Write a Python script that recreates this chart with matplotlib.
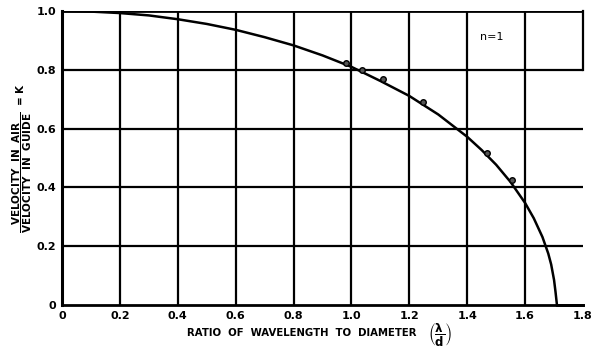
import matplotlib
matplotlib.use("Agg")
import matplotlib.pyplot as plt

# velocity ratio curve, K vs lambda/d
ratio = [0.0, 0.1, 0.2, 0.3, 0.4, 0.5, 0.6, 0.7, 0.8, 0.9, 1.0, 1.1, 1.2,
         1.3, 1.4, 1.45, 1.5, 1.55, 1.6, 1.63, 1.66, 1.68, 1.69, 1.70, 1.705, 1.71]
k_curve = [1.0, 0.998, 0.993, 0.985, 0.972, 0.956, 0.936, 0.911, 0.883, 0.849,
           0.810, 0.762, 0.711, 0.648, 0.572, 0.527, 0.477, 0.418, 0.347,
           0.295, 0.231, 0.175, 0.138, 0.085, 0.045, 0.0]
# flat part at cutoff
ratio_tail = [1.71, 1.8]
k_tail = [0.0, 0.0]

# measured points
meas_ratio = [0.98, 1.036, 1.11, 1.246, 1.467, 1.553]
meas_k = [0.822, 0.80, 0.768, 0.691, 0.516, 0.425]

x_ticks = [0, 0.2, 0.4, 0.6, 0.8, 1.0, 1.2, 1.4, 1.6, 1.8]
x_labels = ["0", "0.2", "0.4", "0.6", "0.8", "1.0", "1.2", "1.4", "1.6", "1.8"]
y_ticks = [0, 0.2, 0.4, 0.6, 0.8, 1.0]
y_labels = ["0", "0.2", "0.4", "0.6", "0.8", "1.0"]

plt.rcParams['font.family'] = ['DejaVu Sans']
plt.rcParams['mathtext.fontset'] = 'dejavusans'

fig = plt.figure(figsize=(6.03, 3.51), dpi=100)
ax = fig.add_axes([62 / 603, 46 / 351, 521 / 603, 294 / 351])

ax.set_xlim(0, 1.8)
ax.set_ylim(0, 1.0)

for xv in x_ticks[1:-1]:
    ax.axvline(xv, color='black', lw=1.6, zorder=1)
for yv in y_ticks[1:-1]:
    ax.axhline(yv, color='black', lw=1.6, zorder=1)
ax.axhline(1.0, color='black', lw=2.0, zorder=1)
ax.plot([1.8, 1.8], [0.8, 1.0], color='black', lw=1.6, clip_on=False)

ax.plot(ratio, k_curve, color='black', lw=1.8, zorder=3)
ax.plot(ratio_tail, k_tail, color='black', lw=2.0, zorder=3, clip_on=False)
ax.plot(meas_ratio, meas_k, 'o', ms=4, mfc='#555555', mec='black', mew=1.0, zorder=4)

for side in ['top', 'right']:
    ax.spines[side].set_visible(False)
ax.spines['left'].set_linewidth(2.2)
ax.spines['bottom'].set_linewidth(2.0)

ax.set_xticks(x_ticks)
ax.set_xticklabels(x_labels, fontsize=8, fontweight='bold')
ax.set_yticks(y_ticks)
ax.set_yticklabels(y_labels, fontsize=8, fontweight='bold')
ax.tick_params(length=0, pad=4)

ax.text(1.486, 0.91, "n=1", fontsize=8, ha='center', va='center')

fig.text(302 / 603, 1 - 333 / 351, 'RATIO  OF  WAVELENGTH  TO  DIAMETER',
         fontsize=7.3, fontweight='bold', ha='center', va='center')
fig.text(440 / 603, 1 - 334 / 351, r'$\mathbf{\left(\dfrac{\lambda}{d}\right)}$',
         fontsize=8.5, ha='center', va='center')
ax.set_ylabel(r'$\mathbf{\dfrac{VELOCITY\ \ IN\ \ AIR}{VELOCITY\ \ IN\ \ GUIDE}}$  = K',
              fontsize=7.5, fontweight='bold', labelpad=2)

fig.savefig("out.png", dpi=100)
